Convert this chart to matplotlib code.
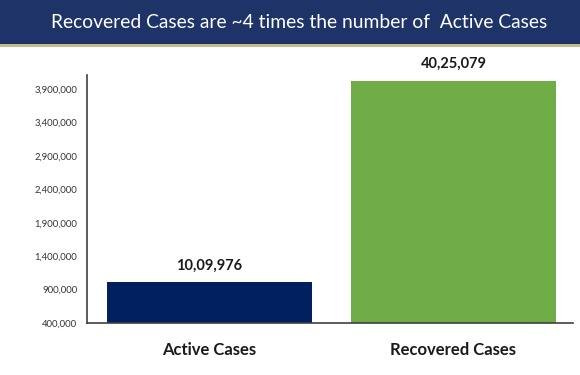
import matplotlib.pyplot as plt
from matplotlib.patches import Rectangle
from matplotlib.ticker import FuncFormatter

categories = ["Active Cases", "Recovered Cases"]
values = [1009976, 4025079]
value_labels = ["10,09,976", "40,25,079"]
bar_colors = ["#002060", "#70ad47"]
yticks = [400000, 900000, 1400000, 1900000, 2400000, 2900000, 3400000, 3900000]
title = "Recovered Cases are ~4 times the number of  Active Cases"

plt.rcParams['font.family'] = ['Lato', 'DejaVu Sans']

fig = plt.figure(figsize=(5.8, 3.75), dpi=100)
fig.patch.set_facecolor("white")

# title banner
fig.patches.append(Rectangle((0, 1 - 44 / 375), 1, 44 / 375, transform=fig.transFigure,
                             facecolor="#1e3468", edgecolor="none", zorder=0))
fig.patches.append(Rectangle((0, 1 - 46.5 / 375), 1, 2.5 / 375, transform=fig.transFigure,
                             facecolor="#c8b98a", edgecolor="none", zorder=0))
fig.text(0.516, 1 - 22 / 375, title, color="white", fontsize=13.9,
         ha="center", va="center")

ax = fig.add_axes([87 / 580, 1 - 323 / 375, (573 - 87) / 580, (323 - 75) / 375])
x = list(range(len(categories)))
ax.bar(x, [v - 400000 for v in values], bottom=400000, width=0.84, color=bar_colors)
ax.set_xlim(-0.502, 1.49)
ax.set_ylim(400000, 4109000)
ax.set_yticks(yticks)
ax.yaxis.set_major_formatter(FuncFormatter(lambda v, p: f"{int(v):,}"))
ax.set_xticks(x)
ax.set_xticklabels(categories, fontsize=12, fontweight="bold", color="#1a1a1a")
ax.tick_params(axis="y", length=0, pad=7, labelsize=6.8, labelcolor="#333333")
ax.tick_params(axis="x", length=0, pad=14)

for s in ["top", "right"]:
    ax.spines[s].set_visible(False)
for s in ["left", "bottom"]:
    ax.spines[s].set_color("#404040")
    ax.spines[s].set_linewidth(1.2)

for xi, v, lab in zip(x, values, value_labels):
    ax.annotate(lab, (xi, v), xytext=(0, 7), textcoords="offset points",
                ha="center", va="bottom", fontsize=10.5, fontweight="bold",
                color="#1a1a1a")

fig.savefig("out.png", dpi=100)
